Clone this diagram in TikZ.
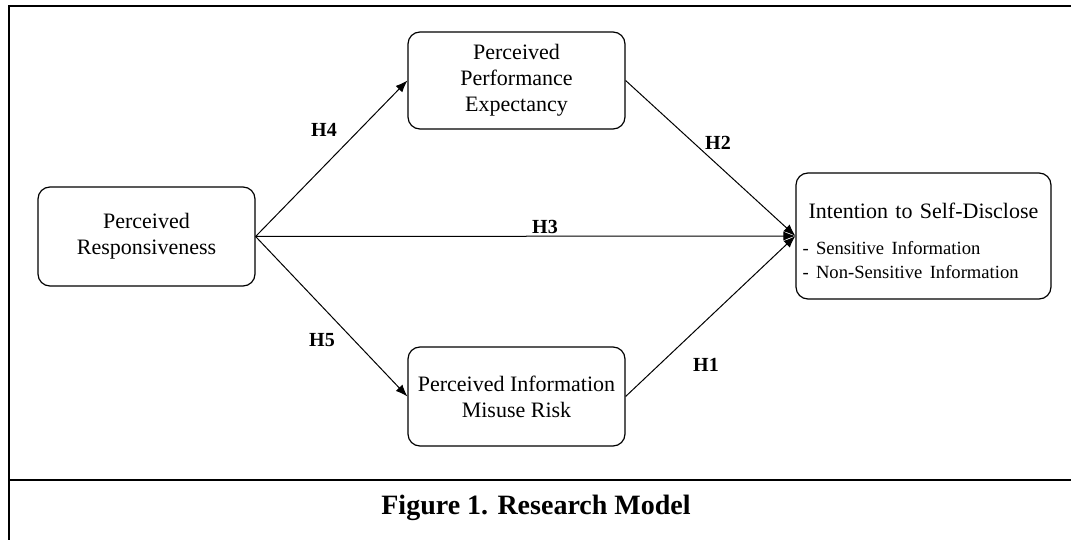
\documentclass[tikz,border=0pt]{standalone}
\usepackage{fontspec}
\setmainfont{Liberation Serif}
\usepackage{tikz}
\usetikzlibrary{arrows.meta}

\begin{document}
\begin{tikzpicture}[x=0.5pt,y=-0.5pt,construct/.style={shape=rectangle,rounded corners=6pt,draw=black,line width=0.6pt,align=center,font=\fontsize{11}{13}\selectfont,minimum width=108.5pt,minimum height=49.5pt,inner sep=2pt},hyp/.style={font=\bfseries\fontsize{10}{12}\selectfont},path/.style={line width=0.5pt,-{Latex[length=6pt,width=4.6pt]}},frame/.style={line width=1pt}]
\def\yc{236.5};
\def\xa{146.5};
\def\xb{516.5};
\def\xc{923.5};

\useasboundingbox (0,0) rectangle (1071,540);
\clip (0,0) rectangle (1071,540);
\draw[frame] (8.5,6) rectangle (1120,600);
\draw[frame] (8.5,480) -- (1120,480);

\node[construct] (PR) at (\xa,\yc) {Perceived\\Responsiveness};
\node[construct,minimum height=48.5pt] (PPE) at (\xb,80.5) {Perceived\\Performance\\Expectancy};
\node[construct] (PIMR) at (\xb,396.5) {Perceived Information\\Misuse Risk};
\node[construct,minimum width=127.5pt,minimum height=63pt,text width=121pt,align=left,inner sep=3pt] (ISD) at (\xc,236) {{\centering\rule{0pt}{13pt}Intention to Self-Disclose\par}\vspace{6pt}{\fontsize{9.3}{12}\selectfont\hbox{- Sensitive Information}\hbox{- Non-Sensitive Information}}};

\draw[path] (PR.east) -- (PPE.west);
\draw[path] (PR.east) -- (ISD.west);
\draw[path] (PR.east) -- (PIMR.west);
\draw[path] (PPE.east) -- (ISD.west);
\draw[path] (PIMR.east) -- (ISD.west);

\node[hyp] (H4) at (324,130) {H4};
\node[hyp] (H3) at (545,227) {H3};
\node[hyp] (H5) at (322,340) {H5};
\node[hyp] (H2) at (718,143) {H2};
\node[hyp] (H1) at (706,365) {H1};

\node[font=\bfseries\fontsize{14}{16}\selectfont] (fig) at (536,508) {Figure 1. Research Model};
\end{tikzpicture}
\end{document}
